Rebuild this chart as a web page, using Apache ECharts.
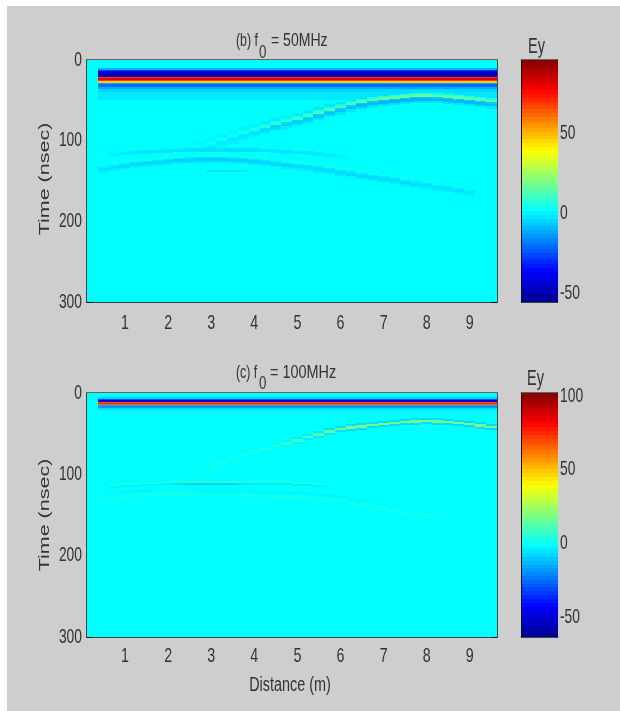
<!DOCTYPE html>
<html>
<head>
<meta charset="utf-8">
<style>
html,body{margin:0;padding:0;background:#fff}
#main{width:620px;height:711px}
</style>
<script src="https://cdn.jsdelivr.net/npm/echarts@6/dist/echarts.min.js"></script>
</head>
<body>
<div id="main"></div>
<script>
// tick labels
var xTicks = [1, 2, 3, 4, 5, 6, 7, 8, 9];
var yTicks = [0, 100, 200, 300];
var cbTicks = [-50, 0, 50];
var cbTicks2 = [-50, 0, 50, 100];

// traces: 37 columns, 0.25 m wide, starting at 0.37 m
var traceStart = 0.37;
var traceStep = 0.25;
var traceCount = 37;

// direct wave rows: [t from, t to, value]
var bandRows50 = [
  [10, 12, -10], [12, 14, -28], [14, 16, -42], [16, 20, -50], [20, 21, -38],
  [21, 22, 68], [22, 25, 80], [25, 26, 68], [26, 28, 46],
  [28, 30, -12], [30, 33, -20], [33, 36, -11], [36, 40, -5], [40, 50, -2]
];
var bandRows100 = [
  [5.5, 7, -8], [7, 8, -30], [8, 10.5, -50], [10.5, 11, -30], [11, 12, 68],
  [12, 14, 76], [14, 15, 64], [15, 16, -16], [16, 19, -18], [19, 21, -7]
];

// reflections: arrival time per column, null where not visible
var curveA50 = [null, null, null, null, null, null, null, null, null,
  109, 104.1, 99.1, 94.8, 90.5, 86.7, 83, 79.3, 76.2, 73.1, 69.4, 65.7, 62, 58.9, 55.1,
  52, 50.2, 48.3, 46.8, 45.6, 44.6, 44.6, 44.9, 45.8, 47.1, 48.3, 49.6, 51.4];
var ampA50 = [0, 0, 0, 0, 0, 0, 0, 0, 0,
  0.1, 0.12, 0.15, 0.2, 0.25, 0.3, 0.4, 0.5, 0.55, 0.6, 0.65, 0.7, 0.75, 0.8, 0.85,
  0.9, 0.95, 1, 1, 1, 1, 1, 0.95, 0.95, 0.9, 0.9, 0.9, 0.9];
var curveB50 = [135.1, 132.6, 130.7, 128.9, 127.6, 126.4, 125.2, 123.9, 123.3, 122.7, 122.7, 122.7,
  123.3, 123.9, 125.2, 126.4, 128.2, 130.1, 131.4, 132.6, 134.5, 136.3, 138.8, 140.6, 143.1,
  145, 146.8, 148.7, 151.2, 153, 154.9, 157.4, 158.6, 161.1, 163.6, null, null];
var ampB50 = [0.5, 0.6, 0.7, 0.7, 0.8, 0.8, 0.8, 0.9, 0.9, 1, 1, 1, 0.9, 0.9, 0.9, 0.8, 0.8, 0.8,
  0.7, 0.7, 0.7, 0.7, 0.7, 0.7, 0.7, 0.7, 0.7, 0.7, 0.7, 0.6, 0.6, 0.6, 0.5, 0.5, 0.4, 0, 0];
var curveC50 = [null, 117, 116, 115, 114, 113.4, 112.8, 112.1, 111.5, 111.5, 111.5, 111.5, 111.5, 111.5, 111.5,
  112.1, 112.8, 114, 114.5, 115.2, 116.5, 117.7, 119.5, null, null, null, null, null, null, null,
  null, null, null, null, null, null, null];
var ampC50 = [0, 0.5, 0.6, 0.7, 0.8, 0.8, 0.9, 0.9, 1, 1, 1, 1, 1, 1, 1, 0.9, 0.8, 0.8, 0.7, 0.6, 0.5, 0.4, 0.3,
  0, 0, 0, 0, 0, 0, 0, 0, 0, 0, 0, 0, 0, 0];
var curveD50 = [null, null, null, null, null, null, null, null, null, null, 137.5, 137.5, 137.5, 137.5,
  null, null, null, null, null, null, null, null, null, null, null, null, null, null, null, null,
  null, null, null, null, null, null, null];
var ampD50 = [0, 0, 0, 0, 0, 0, 0, 0, 0, 0, 1, 1, 1, 1, 0, 0, 0, 0, 0, 0, 0, 0, 0, 0, 0, 0, 0, 0, 0, 0, 0, 0, 0, 0, 0, 0, 0];

var curveA100 = [null, null, null, null, null, null, null, null, null,
  95.1, 90.1, 85.2, 80.2, 76.5, 72.8, 69.1, 65.4, 62.3, 58.6, 54.3, 51.2, 47.5, 44.4, 42.6,
  41.4, 39.5, 38.3, 37, 35.8, 35.2, 34.6, 35.2, 35.8, 37, 38.3, 40.1, 42];
var ampA100 = [0, 0, 0, 0, 0, 0, 0, 0, 0,
  0.05, 0.08, 0.1, 0.12, 0.15, 0.2, 0.25, 0.3, 0.4, 0.5, 0.6, 0.7, 0.8, 0.9, 0.95,
  1, 1, 1, 1, 1, 1, 1, 1, 1, 1, 1, 1, 1];
var curveB100 = [124.7, 123.5, 121.6, 120.4, 119.8, 119.1, 119.1, 119.1, 119.1, 119.8, 119.8, 119.8, 119.8,
  120.4, 121, 121, 121.6, 122.2, 122.8, 123.5, 124.7, 125.9, 127.2, 129.6, 132.1, 134.6, 137, 139.5,
  141.4, 143.2, 145.1, 146.9, 148.1, null, null, null, null];
var ampB100 = [0.6, 0.7, 0.9, 1, 1, 0.8, 0.8, 0.8, 0.8, 0.8, 0.8, 0.8, 0.8, 0.8, 0.8, 0.8, 0.8, 0.8, 1, 1, 1, 1,
  0.9, 0.8, 0.8, 0.7, 0.7, 0.6, 0.6, 0.5, 0.5, 0.4, 0.3, 0, 0, 0, 0];
var curveC100 = [null, 113, 112.3, 111.7, 111.1, 110.5, 110, 109.9, 109.9, 109.9, 109.9, 109.9, 109.9, 109.9,
  109.9, 109.9, 109.9, 109.9, 110.5, 111.1, 111.7, null, null, null, null, null, null, null, null,
  null, null, null, null, null, null, null, null];
var ampC100 = [0, 0.4, 0.4, 0.4, 0.4, 0.4, 0.4, 0.7, 1, 1, 1, 1, 1, 0.7, 0.5, 0.5, 0.5, 0.5, 0.5, 0.5, 0.4,
  0, 0, 0, 0, 0, 0, 0, 0, 0, 0, 0, 0, 0, 0, 0, 0];

// wavelet shape around the arrival time: [offset from, offset to, value]
var waveA50 = [[-7, -4, -3], [-4, -2, 5], [-2, 1, 15], [1, 3, -7], [3, 6, -10], [6, 9, -3]];
var waveB50 = [[-7, -3, 3], [-3, -1, -3], [-1, 3, -6], [3, 5, -2]];
var waveC50 = [[-2, 2, -3], [2, 5, 2]];
var waveD50 = [[-1.5, 1.5, -2.5]];
var waveA100 = [[-4, -1.5, -7], [-1.5, 1.5, 18], [1.5, 4, -7]];
var waveB100 = [[-1.5, 1.5, -3], [4, 7, 2]];
var waveC100 = [[-1.5, 1, 5], [1, 3.5, -9]];

// colour range of each colorbar and the cyan of the empty background
var range50 = [-55.5, 95.5];
var range100 = [-63.6, 102];
var back50 = 1;
var back100 = -1.5;
var jet = ['#00008f', '#0000ff', '#0080ff', '#00ffff', '#80ff80', '#ffff00', '#ff8000', '#ff0000', '#800000'];

var xMin = 0.118, xMax = 9.63;
var fontName = '"Liberation Sans",Arial,sans-serif';
var textCol = '#333';

function panelCells(back, bands, curves) {
  var out = [[xMin, 0, xMax, 300, back]];
  var xEnd = traceStart + traceStep * traceCount;
  for (var i = 0; i < bands.length; i++) {
    out.push([traceStart, bands[i][0], xEnd, bands[i][1], bands[i][2]]);
  }
  for (var c = 0; c < curves.length; c++) {
    for (var k = 0; k < traceCount; k++) {
      if (curves[c].t[k] == null) continue;
      for (var w = 0; w < curves[c].wave.length; w++) {
        var row = curves[c].wave[w];
        out.push([traceStart + k * traceStep, curves[c].t[k] + row[0],
          traceStart + (k + 1) * traceStep, curves[c].t[k] + row[1], row[2] * curves[c].amp[k]]);
      }
    }
  }
  return out;
}

function barCells(range) {
  var out = [];
  var step = (range[1] - range[0]) / 64;
  for (var i = 0; i < 64; i++) {
    out.push([0, range[0] + i * step, 1, range[0] + (i + 1) * step, range[0] + (i + 0.5) * step]);
  }
  return out;
}

function renderCell(params, api) {
  var a = api.coord([api.value(0), api.value(1)]);
  var b = api.coord([api.value(2), api.value(3)]);
  var x0 = Math.round(a[0]), x1 = Math.round(b[0]);
  var y0 = Math.round(Math.min(a[1], b[1])), y1 = Math.round(Math.max(a[1], b[1]));
  return {
    type: 'rect',
    shape: { x: x0, y: y0, width: x1 - x0, height: y1 - y0 },
    style: { fill: api.visual('color') }
  };
}

function cellSeries(grid, data) {
  return {
    type: 'custom',
    xAxisIndex: grid * 2,
    yAxisIndex: grid * 2,
    coordinateSystem: 'cartesian2d',
    renderItem: renderCell,
    encode: { x: [0, 2], y: [1, 3] },
    clip: true,
    silent: true,
    data: data
  };
}

function xAxes(grid, min, max, ticks) {
  var tick = { show: ticks.length > 0, inside: true, length: 6, customValues: ticks, lineStyle: { color: '#111' } };
  return [{
    type: 'value', gridIndex: grid, position: 'bottom', min: min, max: max,
    axisLine: { show: true, onZero: false, lineStyle: { color: '#111', width: 1.5 } },
    axisTick: tick,
    axisLabel: { show: false },
    splitLine: { show: false }
  }, {
    type: 'value', gridIndex: grid, position: 'top', min: min, max: max,
    axisLine: { show: true, onZero: false, lineStyle: { color: '#444', width: 1.5 } },
    axisTick: tick,
    axisLabel: { show: false },
    splitLine: { show: false }
  }];
}

function timeAxes(grid) {
  return [{
    type: 'value', gridIndex: grid, position: 'left', inverse: true, min: 0, max: 300, interval: 100,
    axisLine: { show: true, onZero: false, lineStyle: { color: '#111', width: 1.5 } },
    axisTick: { inside: true, length: 6, lineStyle: { color: '#111' } },
    axisLabel: { show: false },
    splitLine: { show: false }
  }, {
    type: 'value', gridIndex: grid, position: 'right', inverse: true, min: 0, max: 300, interval: 100,
    axisLine: { show: true, onZero: false, lineStyle: { color: '#444', width: 1 } },
    axisTick: { inside: true, length: 6, lineStyle: { color: '#111' } },
    axisLabel: { show: false },
    splitLine: { show: false }
  }];
}

function barAxes(grid, range, ticks) {
  var line = { show: true, onZero: false, lineStyle: { color: '#111', width: 1 } };
  var tick = { inside: true, length: 2, customValues: ticks, lineStyle: { color: '#111' } };
  return [{
    type: 'value', gridIndex: grid, position: 'right', min: range[0], max: range[1],
    axisLine: line, axisTick: tick, axisLabel: { show: false }, splitLine: { show: false }
  }, {
    type: 'value', gridIndex: grid, position: 'left', min: range[0], max: range[1],
    axisLine: line, axisTick: tick, axisLabel: { show: false }, splitLine: { show: false }
  }];
}

// the reference text is squeezed sideways, so it is drawn scaled
function label(text, x, y, align, size, scale) {
  return {
    type: 'text', x: x, y: y, scaleX: scale, z: 20, silent: true,
    style: { text: text, fill: textCol, font: size + 'px ' + fontName, align: align, verticalAlign: 'middle' }
  };
}

function sideLabel(text, x, y) {
  return {
    type: 'text', x: x, y: y, rotation: Math.PI / 2, scaleY: 0.7, z: 20, silent: true,
    style: { text: text, fill: textCol, font: '21.5px ' + fontName, align: 'center', verticalAlign: 'middle' }
  };
}

var cells50 = panelCells(back50, bandRows50, [
  { t: curveA50, amp: ampA50, wave: waveA50 },
  { t: curveC50, amp: ampC50, wave: waveC50 },
  { t: curveD50, amp: ampD50, wave: waveD50 },
  { t: curveB50, amp: ampB50, wave: waveB50 }
]);
var cells100 = panelCells(back100, bandRows100, [
  { t: curveA100, amp: ampA100, wave: waveA100 },
  { t: curveB100, amp: ampB100, wave: waveB100 },
  { t: curveC100, amp: ampC100, wave: waveC100 }
]);

var myChart = echarts.init(document.getElementById('main'), null, { renderer: 'canvas' });
var option = {
  animation: false,
  backgroundColor: '#fff',
  grid: [
    { left: 87, top: 60, width: 410, height: 242 },
    { left: 87, top: 393, width: 410, height: 244 },
    { left: 521.5, top: 60, width: 36, height: 242 },
    { left: 521.5, top: 393, width: 36, height: 244 }
  ],
  xAxis: [].concat(
    xAxes(0, xMin, xMax, xTicks),
    xAxes(1, xMin, xMax, xTicks),
    xAxes(2, 0, 1, []),
    xAxes(3, 0, 1, [])
  ),
  yAxis: [].concat(
    timeAxes(0),
    timeAxes(1),
    barAxes(2, range50, cbTicks),
    barAxes(3, range100, cbTicks2)
  ),
  visualMap: [
    { show: false, seriesIndex: [0, 2], dimension: 4, min: range50[0], max: range50[1], inRange: { color: jet } },
    { show: false, seriesIndex: [1, 3], dimension: 4, min: range100[0], max: range100[1], inRange: { color: jet } }
  ],
  series: [
    cellSeries(0, cells50),
    cellSeries(1, cells100),
    cellSeries(2, barCells(range50)),
    cellSeries(3, barCells(range100))
  ]
};
myChart.setOption(option);

// texts, placed through the axes once the grids exist
var texts = [{
  type: 'rect', z: -10, silent: true,
  shape: { x: 7, y: 6, width: 613, height: 705 },
  style: { fill: '#cecece' }
}];
[0, 1].forEach(function (g) {
  var xLabelY = g == 0 ? 323 : 656;
  xTicks.forEach(function (v) {
    texts.push(label(String(v), myChart.convertToPixel({ xAxisIndex: g * 2 }, v), xLabelY, 'center', 21, 0.68));
  });
  yTicks.forEach(function (v) {
    texts.push(label(String(v), 82, myChart.convertToPixel({ yAxisIndex: g * 2 }, v), 'right', 21, 0.66));
  });
});
cbTicks.forEach(function (v) {
  texts.push(label(String(v), 560, myChart.convertToPixel({ yAxisIndex: 4 }, v), 'left', 21, 0.66));
});
cbTicks2.forEach(function (v) {
  texts.push(label(String(v), 560, myChart.convertToPixel({ yAxisIndex: 6 }, v), 'left', 21, 0.66));
});
texts.push(
  label('(b) f', 236, 41, 'left', 19, 0.65),
  label('0', 259, 53, 'left', 19, 0.7),
  label('= 50MHz', 271, 41, 'left', 19, 0.74),
  label('(c) f', 236, 373, 'left', 19, 0.65),
  label('0', 259, 384, 'left', 19, 0.7),
  label('= 100MHz', 270, 373, 'left', 19, 0.76),
  label('Ey', 528, 47, 'left', 22, 0.66),
  label('Ey', 527, 379, 'left', 22, 0.66),
  label('Distance (m)', 290, 685, 'center', 20, 0.72),
  sideLabel('Time (nsec)', 45, 179),
  sideLabel('Time (nsec)', 45, 515)
);
myChart.setOption({ graphic: texts });
</script>
</body>
</html>
